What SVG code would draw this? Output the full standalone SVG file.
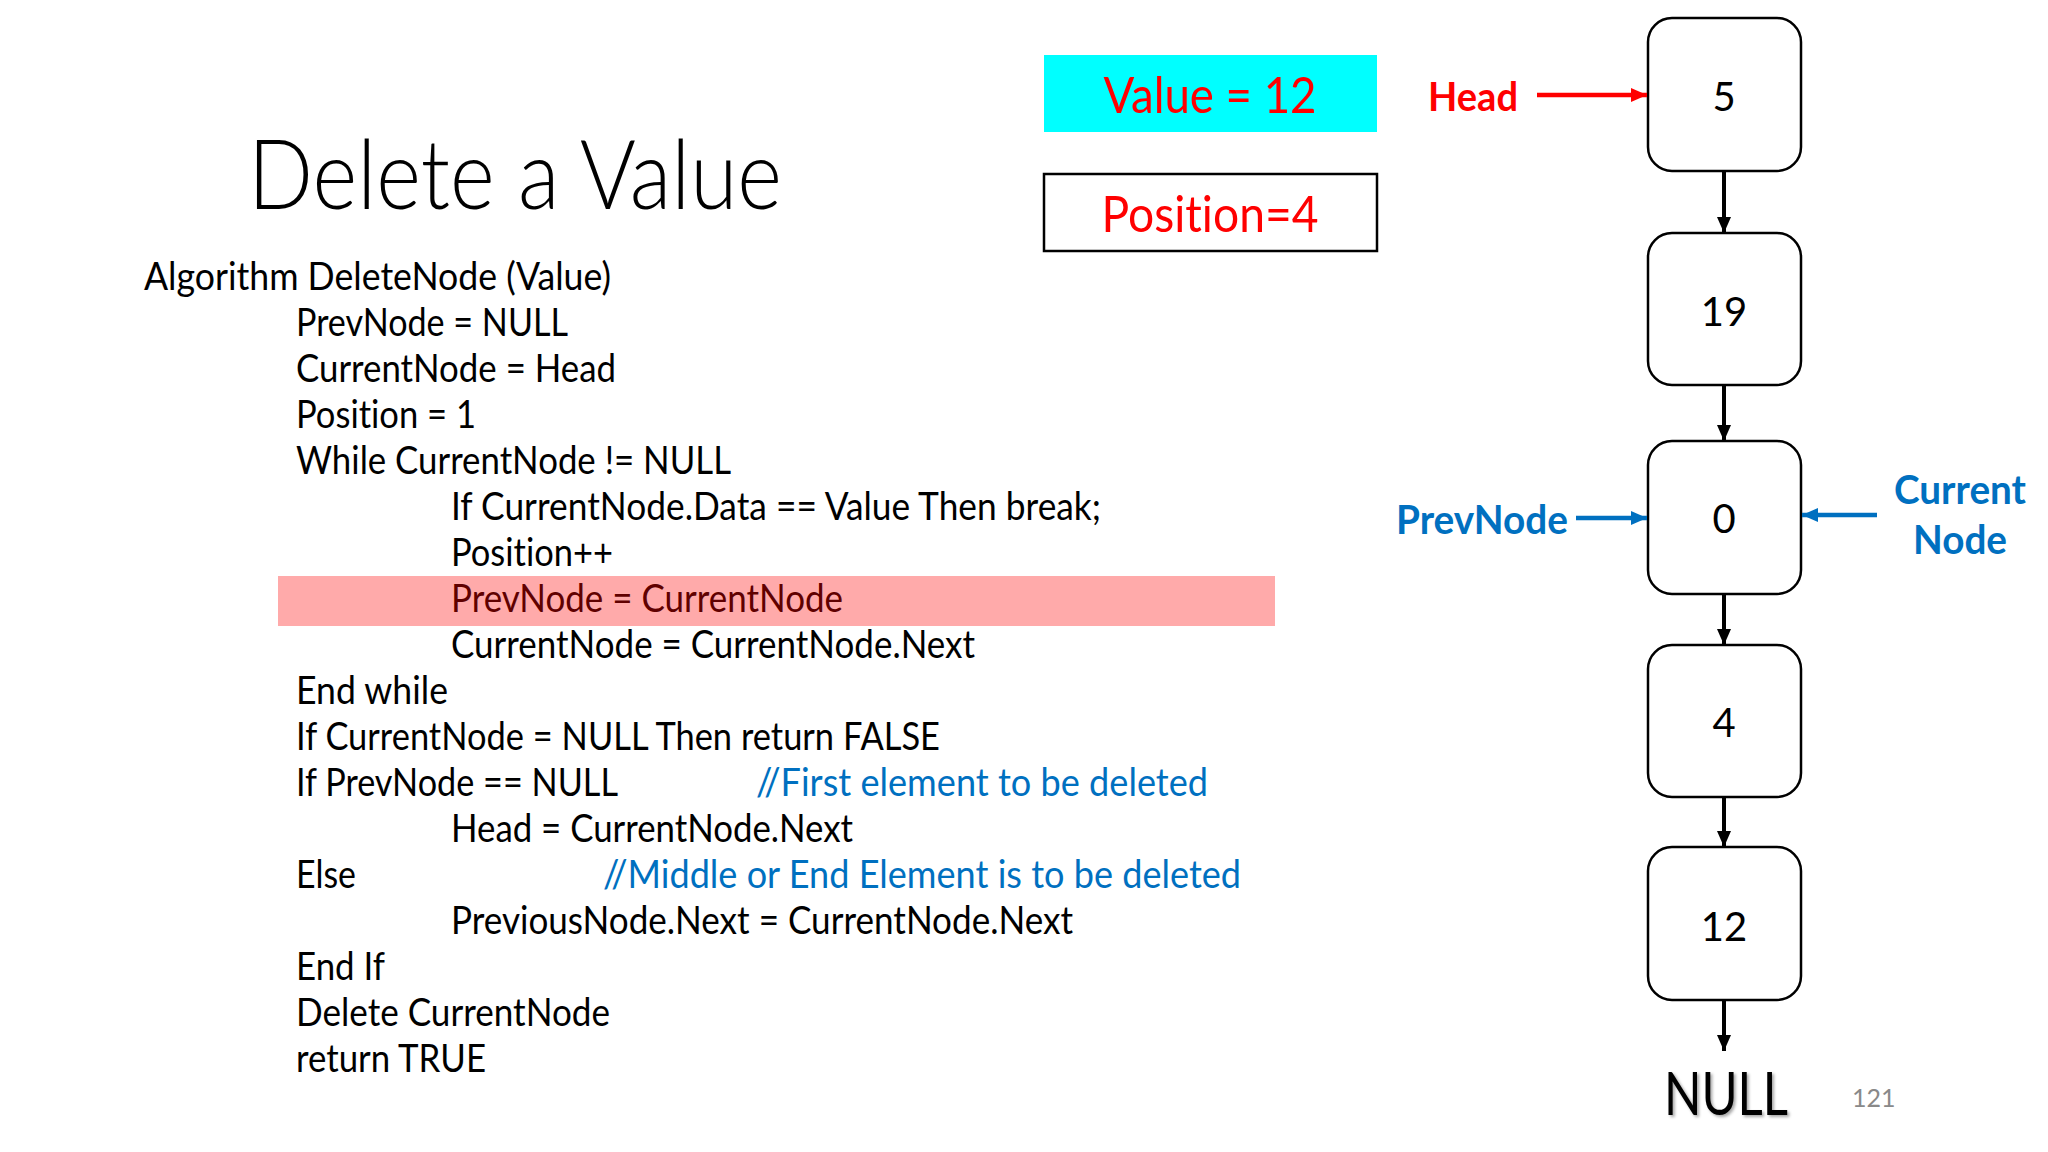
<svg xmlns="http://www.w3.org/2000/svg" width="2048" height="1152" viewBox="0 0 2048 1152">
  <style>
    text { font-variant-ligatures: none; }
    .code { font-family: Lato, "Liberation Sans", sans-serif; font-size: 38px; fill: #000; }
    .cmt { fill: #0070c0; }
    .hl { fill: #600000; }
    .title { font-family: Lato, "Liberation Sans", sans-serif; font-weight: 300; font-size: 96px; fill: #000; }
    .box-txt { font-family: Lato, "Liberation Sans", sans-serif; font-size: 51px; fill: #ff0000; text-anchor: middle; }
    .red-lbl { font-family: Lato, "Liberation Sans", sans-serif; font-weight: bold; font-size: 41px; fill: #ff0000; }
    .blue-lbl { font-family: Lato, "Liberation Sans", sans-serif; font-weight: bold; font-size: 41px; fill: #0070c0; }
    .node rect { fill: #fff; stroke: #000; stroke-width: 2.5; }
    .node text { font-family: Lato, "Liberation Sans", sans-serif; font-size: 40px; fill: #000; text-anchor: middle; }
    .link { stroke: #000; stroke-width: 4; fill: none; }
    .redarrow { stroke: #ff0000; stroke-width: 4.5; fill: none; }
    .bluearrow { stroke: #0070c0; stroke-width: 4.5; fill: none; }
  </style>
  <defs>
    <marker id="ah-black" markerUnits="userSpaceOnUse" markerWidth="16" markerHeight="14" refX="16" refY="7" orient="auto">
      <path d="M0,0 L16,7 L0,14 Z" fill="#000"/>
    </marker>
    <marker id="ah-red" markerUnits="userSpaceOnUse" markerWidth="16" markerHeight="14" refX="16" refY="7" orient="auto">
      <path d="M0,0 L16,7 L0,14 Z" fill="#ff0000"/>
    </marker>
    <marker id="ah-blue" markerUnits="userSpaceOnUse" markerWidth="16" markerHeight="14" refX="16" refY="7" orient="auto">
      <path d="M0,0 L16,7 L0,14 Z" fill="#0070c0"/>
    </marker>
    <filter id="shadow" x="-10%" y="-10%" width="130%" height="140%">
      <feDropShadow dx="2" dy="2" stdDeviation="1.5" flood-color="#000" flood-opacity="0.35"/>
    </filter>
  </defs>

  <rect width="2048" height="1152" fill="#fff"/>

  <!-- Title -->
  <text id="title" class="title" x="248" y="209" textLength="534" lengthAdjust="spacingAndGlyphs">Delete a Value</text>

  <!-- Highlight -->
  <rect id="highlight" x="278" y="576" width="997" height="50" fill="#ffaaaa"/>

  <!-- Code -->
  <g id="code" class="code">
    <text x="144" y="290" textLength="467" lengthAdjust="spacingAndGlyphs">Algorithm DeleteNode (Value)</text>
    <text x="296" y="336" textLength="272" lengthAdjust="spacingAndGlyphs">PrevNode = NULL</text>
    <text x="296" y="382" textLength="320" lengthAdjust="spacingAndGlyphs">CurrentNode = Head</text>
    <text x="296" y="428" textLength="180" lengthAdjust="spacingAndGlyphs">Position = 1</text>
    <text x="296" y="474" textLength="435" lengthAdjust="spacingAndGlyphs">While CurrentNode != NULL</text>
    <text x="451" y="520" textLength="650" lengthAdjust="spacingAndGlyphs">If CurrentNode.Data == Value Then break;</text>
    <text x="451" y="566" textLength="162" lengthAdjust="spacingAndGlyphs">Position++</text>
    <text class="hl" x="451" y="612" textLength="392" lengthAdjust="spacingAndGlyphs">PrevNode = CurrentNode</text>
    <text x="451" y="658" textLength="524" lengthAdjust="spacingAndGlyphs">CurrentNode = CurrentNode.Next</text>
    <text x="296" y="704" textLength="152" lengthAdjust="spacingAndGlyphs">End while</text>
    <text x="296" y="750" textLength="644" lengthAdjust="spacingAndGlyphs">If CurrentNode = NULL Then return FALSE</text>
    <text x="296" y="796" textLength="322" lengthAdjust="spacingAndGlyphs">If PrevNode == NULL</text>
    <text class="cmt" x="756" y="796" textLength="452" lengthAdjust="spacingAndGlyphs">//First element to be deleted</text>
    <text x="451" y="842" textLength="402" lengthAdjust="spacingAndGlyphs">Head = CurrentNode.Next</text>
    <text x="296" y="888" textLength="60" lengthAdjust="spacingAndGlyphs">Else</text>
    <text class="cmt" x="603" y="888" textLength="638" lengthAdjust="spacingAndGlyphs">//Middle or End Element is to be deleted</text>
    <text x="451" y="934" textLength="622" lengthAdjust="spacingAndGlyphs">PreviousNode.Next = CurrentNode.Next</text>
    <text x="296" y="980" textLength="89" lengthAdjust="spacingAndGlyphs">End If</text>
    <text x="296" y="1026" textLength="314" lengthAdjust="spacingAndGlyphs">Delete CurrentNode</text>
    <text x="296" y="1072" textLength="190" lengthAdjust="spacingAndGlyphs">return TRUE</text>
  </g>

  <!-- Value / Position boxes -->
  <g id="value-box">
    <rect x="1044" y="55" width="333" height="77" fill="#00ffff"/>
    <text class="box-txt" x="1210" y="113" textLength="213" lengthAdjust="spacingAndGlyphs">Value = 12</text>
  </g>
  <g id="position-box">
    <rect x="1044" y="174" width="333" height="77" fill="#fff" stroke="#000" stroke-width="2.5"/>
    <text class="box-txt" x="1210" y="232" textLength="217" lengthAdjust="spacingAndGlyphs">Position=4</text>
  </g>

  <!-- Labels -->
  <g id="head-label">
    <text class="red-lbl" x="1428" y="111" textLength="90" lengthAdjust="spacingAndGlyphs">Head</text>
  </g>
  <g id="prevnode-label">
    <text class="blue-lbl" x="1396" y="534" textLength="172" lengthAdjust="spacingAndGlyphs">PrevNode</text>
  </g>
  <g id="currentnode-label">
    <text class="blue-lbl" x="1960" y="504" text-anchor="middle" textLength="132" lengthAdjust="spacingAndGlyphs">Current</text>
    <text class="blue-lbl" x="1960" y="554" text-anchor="middle" textLength="94" lengthAdjust="spacingAndGlyphs">Node</text>
  </g>

  <!-- Nodes -->
  <g id="node-5" class="node">
    <rect x="1648" y="18" width="153" height="153" rx="24"/>
    <text x="1724" y="111">5</text>
  </g>
  <g id="node-19" class="node">
    <rect x="1648" y="233" width="153" height="152" rx="24"/>
    <text x="1724" y="326">19</text>
  </g>
  <g id="node-0" class="node">
    <rect x="1648" y="441" width="153" height="153" rx="24"/>
    <text x="1724" y="533">0</text>
  </g>
  <g id="node-4" class="node">
    <rect x="1648" y="645" width="153" height="152" rx="24"/>
    <text x="1724" y="737">4</text>
  </g>
  <g id="node-12" class="node">
    <rect x="1648" y="847" width="153" height="153" rx="24"/>
    <text x="1724" y="941">12</text>
  </g>
  <g id="null-label">
    <text x="1726" y="1115" text-anchor="middle" font-family="Lato, 'Liberation Sans', sans-serif" font-size="60" fill="#000" filter="url(#shadow)" textLength="124" lengthAdjust="spacingAndGlyphs">NULL</text>
  </g>
  <text id="page-number" x="1852" y="1107" font-family="Lato, 'Liberation Sans', sans-serif" font-size="25" fill="#898989">121</text>

  <!-- Connectors -->
  <g id="connectors">
    <line class="link" x1="1724" y1="171" x2="1724" y2="233" marker-end="url(#ah-black)"/>
    <line class="link" x1="1724" y1="385" x2="1724" y2="441" marker-end="url(#ah-black)"/>
    <line class="link" x1="1724" y1="594" x2="1724" y2="645" marker-end="url(#ah-black)"/>
    <line class="link" x1="1724" y1="797" x2="1724" y2="847" marker-end="url(#ah-black)"/>
    <line class="link" x1="1724" y1="1000" x2="1724" y2="1051" marker-end="url(#ah-black)"/>
    <line class="redarrow" x1="1537" y1="95" x2="1647" y2="95" marker-end="url(#ah-red)"/>
    <line class="bluearrow" x1="1576" y1="518" x2="1647" y2="518" marker-end="url(#ah-blue)"/>
    <line class="bluearrow" x1="1877" y1="515" x2="1802" y2="515" marker-end="url(#ah-blue)"/>
  </g>
</svg>
